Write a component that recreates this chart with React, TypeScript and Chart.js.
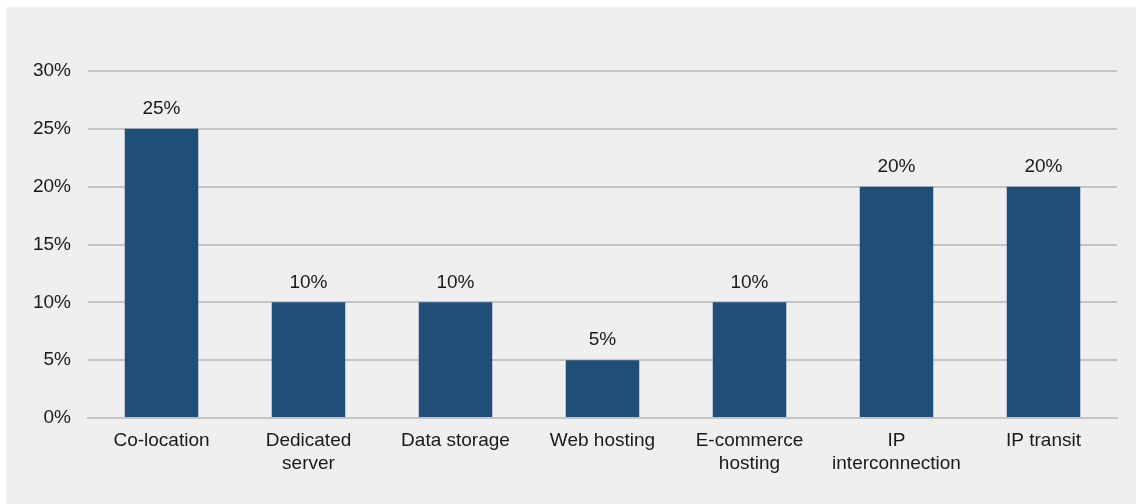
import React, { useEffect, useRef } from "react";
import { Chart, registerables } from "chart.js";

Chart.register(...registerables);

const categories: (string | string[])[] = [
  "Co-location",
  ["Dedicated", "server"],
  "Data storage",
  "Web hosting",
  ["E-commerce", "hosting"],
  ["IP", "interconnection"],
  "IP transit",
];
const shares: number[] = [25, 10, 10, 5, 10, 20, 20];
const yTicks: number[] = [0, 5, 10, 15, 20, 25, 30];

const FONT = "'Liberation Sans', Arial, sans-serif";

const valueLabels = {
  id: "valueLabels",
  afterDatasetsDraw(chart: any) {
    const ctx = chart.ctx;
    const meta = chart.getDatasetMeta(0);
    ctx.save();
    ctx.font = `19px ${FONT}`;
    ctx.fillStyle = "#1a1a1a";
    ctx.textAlign = "center";
    ctx.textBaseline = "middle";
    meta.data.forEach((bar: any, i: number) => {
      ctx.fillText(`${shares[i]}%`, bar.x, bar.y - 20);
    });
    ctx.restore();
  },
};

export default function App() {
  const ref = useRef<HTMLCanvasElement>(null);
  useEffect(() => {
    if (!ref.current) return;
    const chart = new Chart(ref.current, {
      type: "bar",
      data: {
        labels: categories,
        datasets: [
          {
            data: shares,
            backgroundColor: "#1f4e79",
            borderColor: "#8a9cb0",
            borderWidth: 0,
            barPercentage: 0.5,
            categoryPercentage: 1,
          },
        ],
      },
      options: {
        animation: false,
        responsive: false,
        maintainAspectRatio: false,
        layout: { padding: { top: 64, left: 0, right: 19, bottom: 0 } },
        plugins: { legend: { display: false }, tooltip: { enabled: false } },
        scales: {
          x: {
            grid: { display: false, drawTicks: false },
            border: { display: true, color: "#c4c4c4", width: 2 },
            ticks: {
              color: "#1a1a1a",
              font: { family: FONT, size: 19, lineHeight: 1.2 },
              padding: 11.6,
              maxRotation: 0,
              autoSkip: false,
            },
            afterFit: (s: any) => {
              s.height = 497 - 411;
            },
          },
          y: {
            min: 0,
            max: 30,
            afterBuildTicks: (s: any) => {
              s.ticks = yTicks.map((v) => ({ value: v }));
            },
            grid: { color: "#c4c4c4", lineWidth: 2, drawTicks: false },
            border: { display: false },
            ticks: {
              color: "#1a1a1a",
              font: { family: FONT, size: 19 },
              padding: 17,
              callback: (v: any) => `${v}%`,
            },
            afterFit: (s: any) => {
              s.width = 82;
            },
          },
        },
      },
      plugins: [valueLabels],
    });
    return () => chart.destroy();
  }, []);
  return (
    <div
      style={{
        position: "fixed",
        left: 6,
        top: 7,
        width: 1130,
        height: 497,
        background: "#efefef",
      }}
    >
      <canvas ref={ref} width={1130} height={497} style={{ display: "block" }} />
    </div>
  );
}
